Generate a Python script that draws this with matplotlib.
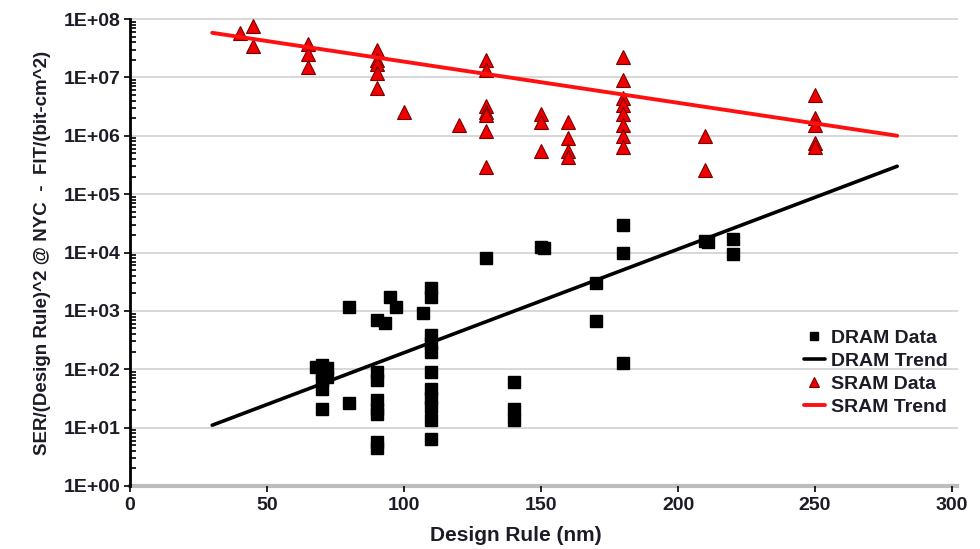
import numpy as np
import matplotlib
matplotlib.use('Agg')
import matplotlib.pyplot as plt
from matplotlib.ticker import LogLocator, NullFormatter, FixedLocator

plt.rcParams['font.family'] = ['Liberation Sans', 'DejaVu Sans']
plt.rcParams['font.weight'] = 'bold'

# SRAM data (design rule nm, SER)
sram_x = [40, 45, 45,
          65, 65, 65,
          90, 90, 90, 90, 90,
          100, 120,
          130, 130, 130, 130, 130, 130, 130,
          150, 150, 150,
          160, 160, 160, 160,
          180, 180, 180, 180, 180, 180, 180, 180,
          210, 210,
          250, 250, 250, 250, 250]
sram_y = [5.7e7, 7.6e7, 3.5e7,
          3.7e7, 2.5e7, 1.5e7,
          3.0e7, 2.0e7, 1.7e7, 1.2e7, 6.5e6,
          2.6e6, 1.5e6,
          2.0e7, 1.35e7, 3.2e6, 2.6e6, 2.3e6, 1.2e6, 2.9e5,
          2.4e6, 1.7e6, 5.5e5,
          1.7e6, 9.1e5, 5.4e5, 4.4e5,
          2.26e7, 9.1e6, 4.4e6, 3.4e6, 2.4e6, 1.5e6, 1.0e6, 6.5e5,
          1.0e6, 2.6e5,
          4.9e6, 2.0e6, 1.5e6, 7.4e5, 6.5e5]

# DRAM data
dram_x = [68, 70, 70, 70, 70, 70, 72, 72,
          80, 80,
          90, 90, 90, 90, 90, 90, 90, 90,
          93, 95, 97, 107,
          110, 110, 110, 110, 110, 110, 110, 110, 110, 110, 110,
          130,
          140, 140, 140,
          150, 151,
          170, 170,
          180, 180, 180,
          210, 211,
          220, 220]
dram_y = [110, 119, 85, 66, 45, 21, 105, 75,
          1170, 26,
          700, 91, 66, 30, 21, 17, 5.7, 4.5,
          630, 1730, 1170, 910,
          2450, 1730, 390, 280, 200, 91, 45, 32, 23, 13.5, 6.3,
          8100,
          61, 21, 13.5,
          1.26e4, 1.2e4,
          2950, 660,
          3.0e4, 9800, 130,
          1.6e4, 1.5e4,
          1.7e4, 9500]

# trend line endpoints
trend_x = [30, 280]
sram_trend = [5.8e7, 1.0e6]
dram_trend = [11, 3.0e5]

decades = [1e0, 1e1, 1e2, 1e3, 1e4, 1e5, 1e6, 1e7, 1e8]
decade_labels = ['1E+00', '1E+01', '1E+02', '1E+03', '1E+04', '1E+05', '1E+06', '1E+07', '1E+08']
xticks = [0, 50, 100, 150, 200, 250, 300]

txt = '#1c1c28'

fig = plt.figure(figsize=(9.8, 5.49), dpi=100)
ax = fig.add_axes([130/980, 1-486/549, 822/980, 467/549])
ax.set_yscale('log')
ax.set_xlim(0, 300)
ax.set_ylim(1e0, 1e8)

for d in decades[1:]:
    ax.axhline(d, color='#d4d4d4', lw=1.3, zorder=0, xmax=1.006, clip_on=False)
ax.axhline(1e0, color='#bdbdbd', lw=3, zorder=1, xmax=1.006, clip_on=False)

ax.plot(dram_x, dram_y, 's', color='black', markersize=8.5, ls='none',
        label='DRAM Data', zorder=3)
ax.plot(trend_x, dram_trend, '-', color='black', lw=2.6, label='DRAM Trend',
        zorder=4, solid_capstyle='round')
ax.plot(sram_x, sram_y, '^', color='#ee0000', markeredgecolor='#7a0000',
        markeredgewidth=0.8, markersize=9.5, ls='none', label='SRAM Data', zorder=3)
ax.plot(trend_x, sram_trend, '-', color='#ff1010', lw=2.8, label='SRAM Trend',
        zorder=4, solid_capstyle='round')

for s in ['top', 'right', 'bottom']:
    ax.spines[s].set_visible(False)
ax.spines['left'].set_linewidth(2)
ax.spines['left'].set_color('black')

ax.yaxis.set_major_locator(FixedLocator(decades))
ax.set_yticklabels(decade_labels)
ax.yaxis.set_minor_locator(LogLocator(base=10, subs=np.arange(2, 10), numticks=20))
ax.yaxis.set_minor_formatter(NullFormatter())
ax.tick_params(axis='y', which='major', direction='out', length=4, width=1.2,
               labelsize=14, labelcolor=txt, pad=3)
ax.tick_params(axis='y', which='minor', direction='in', length=4, width=1.2)

ax.set_xticks(xticks)
ax.tick_params(axis='x', which='major', direction='out', length=4, width=1.2,
               labelsize=14, labelcolor=txt, pad=4)

ax.set_xlabel('Design Rule (nm)', fontsize=15, fontweight='bold', color=txt, va='center')
ax.xaxis.set_label_coords(0.4696, -0.107)
ax.set_ylabel('SER/(Design Rule)^2 @ NYC  -  FIT/(bit-cm^2)', fontsize=13.5,
              fontweight='bold', color=txt, labelpad=9)

leg = ax.legend(loc='upper left', bbox_to_anchor=(0.81, 0.352), frameon=False,
                fontsize=14, handlelength=1.1, handletextpad=0.3,
                labelspacing=0.27, markerscale=0.75, borderaxespad=0)
for t in leg.get_texts():
    t.set_color(txt)

fig.savefig('out.png', dpi=100)
